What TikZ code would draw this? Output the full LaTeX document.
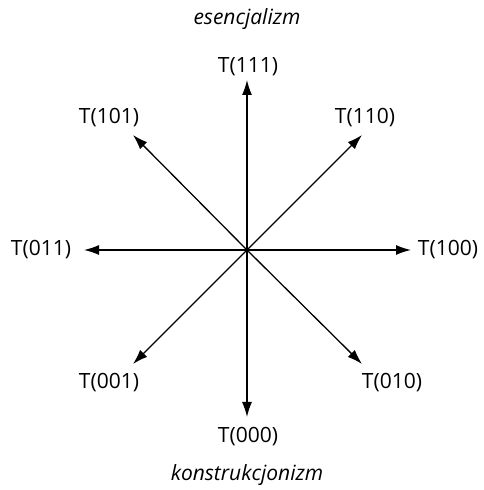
\documentclass[tikz,border=0pt]{standalone}
\usepackage{fontspec}
\setmainfont{Open Sans}
\usetikzlibrary{arrows.meta}
\begin{document}
\begin{tikzpicture}[x=1pt,y=1pt,
  lbl/.style={font=\fontsize{21}{25}\selectfont, inner sep=0pt},
  ttl/.style={font=\fontsize{21}{25}\selectfont\itshape, inner sep=0pt},
  arr/.style={line width=1.3pt, -{Latex[length=15pt,width=10pt]}}]
\useasboundingbox (0,0) rectangle (484,490);
\coordinate (c) at (247,240);
\coordinate (n) at (247,410);
\coordinate (s) at (247,73);
\coordinate (w) at (84,240);
\coordinate (e) at (411,240);
\coordinate (ne) at (362,355);
\coordinate (nw) at (133,355);
\coordinate (sw) at (133,126);
\coordinate (se) at (362,126);
\node[ttl] (top) at (247,471) {esencjalizm};
\node[ttl] (bot) at (247,15) {konstrukcjonizm};
\node[lbl] (t111) at (248,423) {T(111)};
\node[lbl] (t000) at (248,53) {T(000)};
\node[lbl] (t011) at (41,240) {T(011)};
\node[lbl] (t100) at (448,240) {T(100)};
\node[lbl] (t101) at (109,372) {T(101)};
\node[lbl] (t110) at (365,372) {T(110)};
\node[lbl] (t001) at (109,107) {T(001)};
\node[lbl] (t010) at (392,107) {T(010)};
\foreach \p in {n,s,w,e,ne,nw,sw,se} \draw[arr] (c) -- (\p);
\end{tikzpicture}
\end{document}
